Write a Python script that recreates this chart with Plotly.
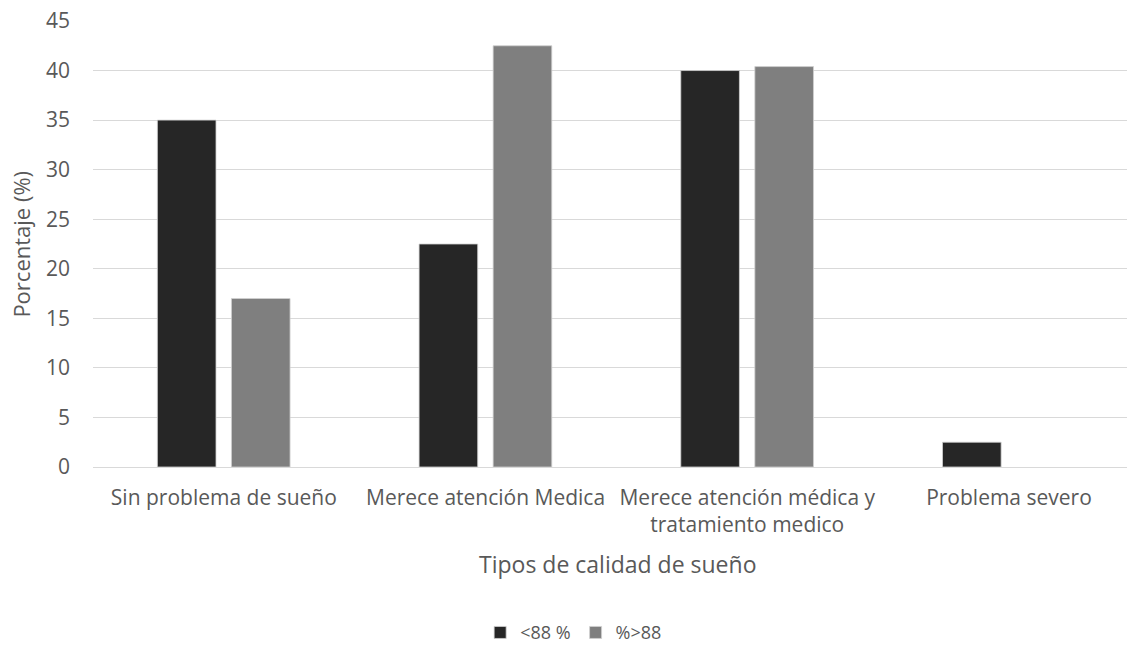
import plotly.graph_objects as go

# Categorías de calidad de sueño y porcentajes por grupo
categorias = [
    "Sin problema de sueño",
    "Merece atención Medica",
    "Merece atención médica y<br>tratamiento medico",
    "Problema severo",
]
serie_menor_88 = [35, 22.5, 40, 2.5]
serie_mayor_88 = [17, 42.5, 40.4, 0]
nombres_series = ["<88 %", "%>88"]
ticks_y = [0, 5, 10, 15, 20, 25, 30, 35, 40, 45]

FUENTE = "'Open Sans', Lato, sans-serif"
GRIS_TEXTO = "#595959"
ANCHO_BARRA = 0.224


def bordes(valores):
    # sin contorno en barras de altura cero
    return [0.8 if v > 0 else 0 for v in valores]


fig = go.Figure()
fig.add_trace(go.Bar(
    x=categorias, y=serie_menor_88, name=nombres_series[0],
    width=ANCHO_BARRA, offset=-0.254,
    marker=dict(color="#262626", line=dict(color="#d0d0d0", width=bordes(serie_menor_88))),
))
fig.add_trace(go.Bar(
    x=categorias, y=serie_mayor_88, name=nombres_series[1],
    width=ANCHO_BARRA, offset=0.029,
    marker=dict(color="#7f7f7f", line=dict(color="#d0d0d0", width=bordes(serie_mayor_88))),
))

fig.update_layout(
    width=1127, height=645,
    margin=dict(l=93, r=0, t=21, b=178, autoexpand=False),
    paper_bgcolor="white", plot_bgcolor="white",
    barmode="overlay",
    font=dict(family=FUENTE, color=GRIS_TEXTO, size=21),
    showlegend=True,
    legend=dict(
        orientation="h", xref="container", yref="container",
        x=0.509, xanchor="center", y=0.019, yanchor="middle",
        font=dict(size=18, color=GRIS_TEXTO), itemwidth=30,
        traceorder="normal",
    ),
    xaxis=dict(
        range=[-0.5, 3.451], showgrid=False, showline=False, zeroline=False,
        tickfont=dict(size=21, color=GRIS_TEXTO), ticks="", ticklabelstandoff=16,
    ),
    yaxis=dict(
        range=[0, 45], tickvals=ticks_y, showgrid=True, gridcolor="#d9d9d9",
        gridwidth=1.3, zeroline=True, zerolinecolor="#d9d9d9", zerolinewidth=1.3,
        showline=False, tickfont=dict(size=21, color=GRIS_TEXTO),
        ticks="", ticklabelstandoff=22,
    ),
    annotations=[
        dict(text="Tipos de calidad de sueño", xref="paper", yref="paper",
             x=0.507, y=-0.218, xanchor="center", yanchor="middle",
             showarrow=False, font=dict(size=23, color=GRIS_TEXTO)),
        dict(text="Porcentaje (%)", xref="paper", yref="paper",
             x=-0.07, y=0.5, xanchor="center", yanchor="middle",
             textangle=-90, showarrow=False, font=dict(size=22, color=GRIS_TEXTO)),
    ],
)

fig.write_html("out.html")
